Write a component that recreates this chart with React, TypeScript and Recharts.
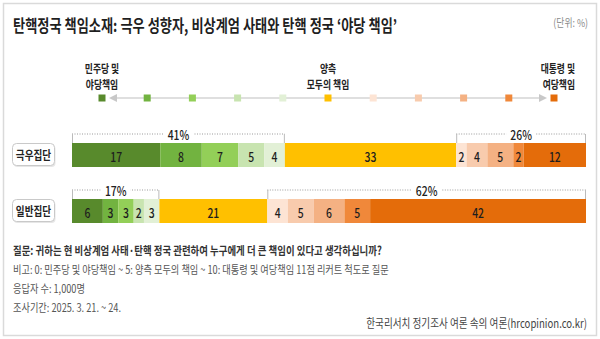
import React from "react";
import { Bar, BarChart, LabelList, XAxis, YAxis } from "recharts";

// rows (groups) and the 11-point scale, 0 = 민주당 및 야당책임 ... 10 = 대통령 및 여당책임
const groups = ["극우집단", "일반집단"];
const farRight = [17, 8, 7, 5, 4, 33, 2, 4, 5, 2, 12];
const general = [6, 3, 3, 2, 3, 21, 4, 5, 6, 5, 42];
const leftTotals = [41, 17]; // printed above the green part
const rightTotals = [26, 62]; // printed above the orange part

const scaleColors = [
  "#588a2c",
  "#72b340",
  "#93cf58",
  "#c8e4b0",
  "#e2f0d6",
  "#ffc000",
  "#fde4d4",
  "#f8cbad",
  "#f4b183",
  "#f0883a",
  "#e46c0a",
];

const rowValues = [farRight, general];
const keys = scaleColors.map((_, i) => `s${i}`);

const chartData = groups.map((name, r) => {
  const row: Record<string, string | number> = { name };
  rowValues[r].forEach((v, i) => {
    row[`s${i}`] = v;
  });
  return row;
});

const FONT = "'Noto Sans CJK KR', 'Noto Sans', sans-serif";
const SX = 0.8; // the original uses a condensed face

const T = ({ x, y, size, weight = 400, fill = "#333", anchor = "start", children }: any) => (
  <text
    transform={`translate(${x},${y}) scale(${SX},1)`}
    textAnchor={anchor}
    dominantBaseline="central"
    fontSize={size}
    fontWeight={weight}
    fill={fill}
    fontFamily={FONT}
  >
    {children}
  </text>
);

const box = (p: any) => p.viewBox || p;

// number inside each segment
const valueLabel = (seg: number) => (props: any) => {
  const { x, y, width, height } = box(props);
  const v = rowValues[props.index][seg];
  return (
    <T x={x + width / 2} y={y + height / 2 + 0.5} size={13} weight={500} fill="#1e1e1e" anchor="middle">
      {v}
    </T>
  );
};

const bracket = (x1: number, x2: number, top: number, text: string) => {
  const ly = top - 9;
  const mid = (x1 + x2) / 2;
  return (
    <g>
      <line x1={x1} y1={ly} x2={x2} y2={ly} stroke="#9a9a9a" strokeDasharray="1 1.5" />
      <line x1={x1 + 0.5} y1={ly} x2={x1 + 0.5} y2={top} stroke="#bbb" />
      <line x1={x2 - 0.5} y1={ly} x2={x2 - 0.5} y2={top} stroke="#bbb" />
      <rect x={mid - 15} y={ly - 7} width={30} height={14} fill="#fff" />
      <T x={mid} y={ly} size={13} weight={500} fill="#222" anchor="middle">
        {text}
      </T>
    </g>
  );
};

// bracket over the first five segments, measured off the first segment
const leftBracket = (props: any) => {
  const { x, y, width } = box(props);
  const vals = rowValues[props.index];
  const sum = vals.slice(0, 5).reduce((a, b) => a + b, 0);
  return bracket(x, x + (width * sum) / vals[0], y, `${leftTotals[props.index]}%`);
};

// bracket over the last five segments, measured off the last segment
const rightBracket = (props: any) => {
  const { x, y, width } = box(props);
  const vals = rowValues[props.index];
  const sum = vals.slice(6).reduce((a, b) => a + b, 0);
  const end = x + width;
  return bracket(end - (width * sum) / vals[10], end, y, `${rightTotals[props.index]}%`);
};

const GroupTick = (props: any) => {
  const { y, payload } = props;
  return (
    <g>
      <rect x={13.5} y={y - 10} width={42} height={22} rx={4} fill="#e6e6e6" />
      <rect x={12.5} y={y - 11.5} width={42} height={22} rx={4} fill="#fff" stroke="#c9c9c9" />
      <T x={33.5} y={y - 0.5} size={12} weight={700} fill="#222" anchor="middle">
        {payload.value}
      </T>
    </g>
  );
};

const legendX = (i: number) => 102 + i * 45.2;

const App = () => {
  return (
    <div
      style={{
        position: "absolute",
        left: 0,
        top: 0,
        width: 600,
        height: 339,
        background: "#fff",
        fontFamily: FONT,
      }}
    >
      <div style={{ position: "absolute", left: 0, top: 0 }}>
        <BarChart
          width={600}
          height={339}
          data={chartData}
          layout="vertical"
          stackOffset="expand"
          margin={{ top: 127, right: 14, bottom: 100, left: 0 }}
        >
          <XAxis type="number" hide domain={[0, 1]} />
          <YAxis
            type="category"
            dataKey="name"
            width={72}
            axisLine={false}
            tickLine={false}
            tick={<GroupTick />}
          />
          {keys.map((k, i) => (
            <Bar key={k} dataKey={k} stackId="a" fill={scaleColors[i]} barSize={24} isAnimationActive={false}>
              <LabelList dataKey={k} content={valueLabel(i)} />
              {i === 0 && <LabelList dataKey={k} content={leftBracket} />}
              {i === 10 && <LabelList dataKey={k} content={rightBracket} />}
            </Bar>
          ))}
        </BarChart>
      </div>

      <svg width={600} height={339} style={{ position: "absolute", left: 0, top: 0, pointerEvents: "none" }}>
        <rect x={3.5} y={3.5} width={593} height={332} fill="none" stroke="#dadada" strokeWidth={1.5} />

        <T x={13} y={25} size={16.5} weight={700} fill="#1f1f1f">
          탄핵정국 책임소재: 극우 성향자, 비상계엄 사태와 탄핵 정국 ‘야당 책임’
        </T>
        <T x={588} y={22} size={11} fill="#8a8a8a" anchor="end">
          (단위: %)
        </T>

        {/* scale legend */}
        <line x1={112} y1={98} x2={544} y2={98} stroke="#d4d4d4" strokeWidth={1.5} />
        <path d="M109,98 L117,94 L117,102 Z" fill="#c8c8c8" />
        <path d="M547,98 L539,94 L539,102 Z" fill="#c8c8c8" />
        {scaleColors.map((c, i) => (
          <rect key={i} x={legendX(i) - 3.5} y={94.5} width={7} height={7} fill={c} />
        ))}
        <T x={legendX(0)} y={68} size={11} weight={700} fill="#222" anchor="middle">
          민주당 및
        </T>
        <T x={legendX(0)} y={84} size={11} weight={700} fill="#222" anchor="middle">
          야당책임
        </T>
        <T x={legendX(5)} y={68} size={11} weight={700} fill="#222" anchor="middle">
          양측
        </T>
        <T x={legendX(5)} y={84} size={11} weight={700} fill="#222" anchor="middle">
          모두의 책임
        </T>
        <T x={575} y={68} size={11} weight={700} fill="#222" anchor="end">
          대통령 및
        </T>
        <T x={575} y={84} size={11} weight={700} fill="#222" anchor="end">
          여당책임
        </T>

        {/* notes */}
        <T x={13} y={250} size={11.8} weight={700} fill="#333">
          질문: 귀하는 현 비상계엄 사태·탄핵 정국 관련하여 누구에게 더 큰 책임이 있다고 생각하십니까?
        </T>
        <T x={13} y={269} size={11.5} fill="#555">
          비고: 0: 민주당 및 야당책임 ~ 5: 양측 모두의 책임 ~ 10: 대통령 및 여당책임 11점 리커트 척도로 질문
        </T>
        <T x={13} y={288} size={11.5} fill="#555">
          응답자 수: 1,000명
        </T>
        <T x={13} y={307} size={11.5} fill="#555">
          조사기간: 2025. 3. 21. ~ 24.
        </T>
        <T x={587} y={322} size={12} fill="#444" anchor="end">
          한국리서치 정기조사 여론 속의 여론(hrcopinion.co.kr)
        </T>
      </svg>
    </div>
  );
};

export default App;
